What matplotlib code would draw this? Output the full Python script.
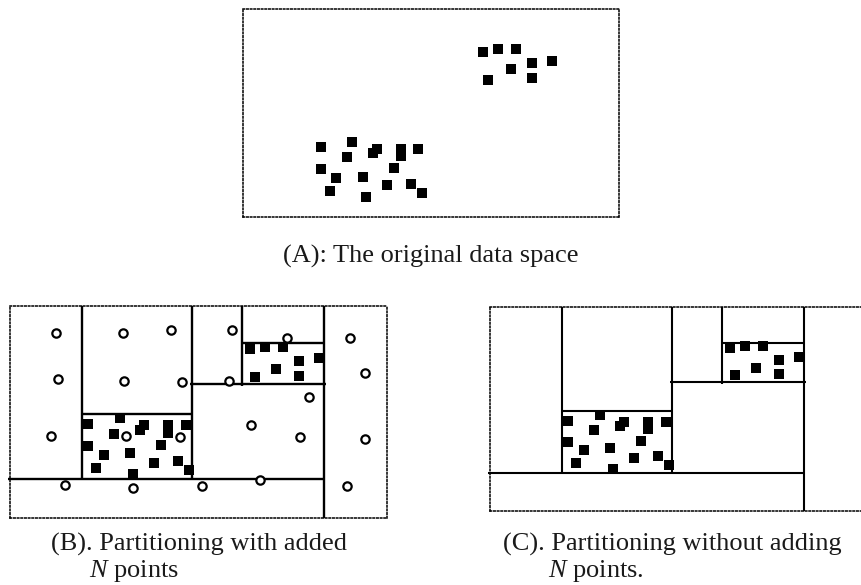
import matplotlib
matplotlib.use("Agg")
import matplotlib.pyplot as plt

plt.rcParams['font.family'] = ['Liberation Serif', 'DejaVu Serif']
plt.rcParams['mathtext.fontset'] = 'custom'
plt.rcParams['mathtext.it'] = 'Liberation Serif:italic'
plt.rcParams['mathtext.rm'] = 'Liberation Serif'

# ---------------- data ----------------
# Panel A: original data space (x right, y down)
a_upper_x = [240, 255, 273, 289, 309, 268, 245, 289]
a_upper_y = [43, 40, 40, 54, 52, 60, 71, 69]
a_lower_x = [78, 109, 134, 130, 158, 158, 175, 104, 78, 151, 93, 120, 87, 144, 168, 179, 123]
a_lower_y = [138, 133, 140, 144, 140, 147, 140, 148, 160, 159, 169, 168, 182, 176, 175, 184, 188]

# Panels B / C: data points after partitioning
p_upper_x = [240, 255, 273, 289, 309, 266, 245, 289]
p_upper_y = [43, 41, 41, 55, 52, 63, 71, 70]
p_lower_x = [78, 110, 134, 130, 158, 158, 176, 104, 78, 151, 94, 120, 86, 144, 168, 179, 123]
p_lower_y = [118, 112, 119, 124, 119, 127, 119, 128, 140, 139, 149, 147, 162, 157, 155, 164, 168]

# added N points (panel B only)
n_x = [46, 113, 161, 222, 277, 340, 48, 114, 172, 219, 355, 299, 41, 116, 170, 241, 290, 355, 55, 123, 192, 250, 337]
n_y = [27, 27, 24, 24, 32, 32, 73, 75, 76, 75, 67, 91, 130, 130, 131, 119, 131, 133, 179, 182, 180, 174, 180]

# partition boundaries: vertical (x, y0, y1) and horizontal (y, x0, x1)
v_x = [72, 182, 232, 314]
v_y0 = [0, 0, 0, 0]
v_y1 = [173, 173, 80, 212]
h_y = [173, 78, 37, 108]
h_x0 = [-2, 180, 232, 72]
h_x1 = [314, 316, 314, 182]

captions = ["(A): The original data space",
            "(B). Partitioning with added",
            "(C). Partitioning without adding"]
second_lines = [r"$N$ points", r"$N$ points."]

# ---------------- figure ----------------
W, H = 861, 585
fig = plt.figure(figsize=(W / 100, H / 100), dpi=100)


def make_ax(left, top, width, height, xmax, ymax):
    ax = fig.add_axes([left / W, 1 - (top + height) / H, width / W, height / H])
    ax.set_xlim(0, xmax)
    ax.set_ylim(ymax, 0)
    ax.set_xticks([])
    ax.set_yticks([])
    ax.patch.set_alpha(0)
    for s in ax.spines.values():
        s.set_linestyle((0, (1, 1.4)))
        s.set_linewidth(1.1)
        s.set_color('black')
    return ax


sq = dict(linestyle='none', marker='s', markersize=7.4, color='black',
          markeredgewidth=0, clip_on=False)
circ = dict(linestyle='none', marker='o', markersize=6.0, markerfacecolor='white',
            markeredgecolor='black', markeredgewidth=1.6, clip_on=False)

# Panel A
axA = make_ax(243, 9, 376, 208, 376, 208)
axA.plot(a_upper_x, a_upper_y, **sq)
axA.plot(a_lower_x, a_lower_y, **sq)


def draw_partition(ax, lw):
    for x, y0, y1 in zip(v_x, v_y0, v_y1):
        ax.plot([x, x], [y0, y1], color='black', lw=lw, clip_on=False,
                solid_capstyle='butt')
    for y, x0, x1 in zip(h_y, h_x0, h_x1):
        ax.plot([x0, x1], [y, y], color='black', lw=lw, clip_on=False,
                solid_capstyle='butt')


# Panel B
axB = make_ax(10, 306, 377, 212, 377, 212)
draw_partition(axB, 1.7)
axB.plot(p_upper_x, p_upper_y, **sq)
axB.plot(p_lower_x, p_lower_y, **sq)
axB.plot(n_x, n_y, **circ)

# Panel C (right edge runs off the figure)
axC = make_ax(490, 307, 377, 204, 377, 212)
draw_partition(axC, 1.5)
axC.plot(p_upper_x, p_upper_y, **sq)
axC.plot(p_lower_x, p_lower_y, **sq)

# captions
fs = 19
tc = '#1a1a1a'
fig.text(430.5 / W, 1 - 263 / H, captions[0], fontsize=fs, ha='center',
         va='baseline', color=tc)
fig.text(51 / W, 1 - 551 / H, captions[1], fontsize=fs, ha='left',
         va='baseline', color=tc)
fig.text(89 / W, 1 - 577 / H, second_lines[0], fontsize=fs, ha='left',
         va='baseline', color=tc)
fig.text(503 / W, 1 - 551 / H, captions[2], fontsize=fs, ha='left',
         va='baseline', color=tc)
fig.text(548 / W, 1 - 577 / H, second_lines[1], fontsize=fs, ha='left',
         va='baseline', color=tc)

fig.savefig("out.png", dpi=100)
